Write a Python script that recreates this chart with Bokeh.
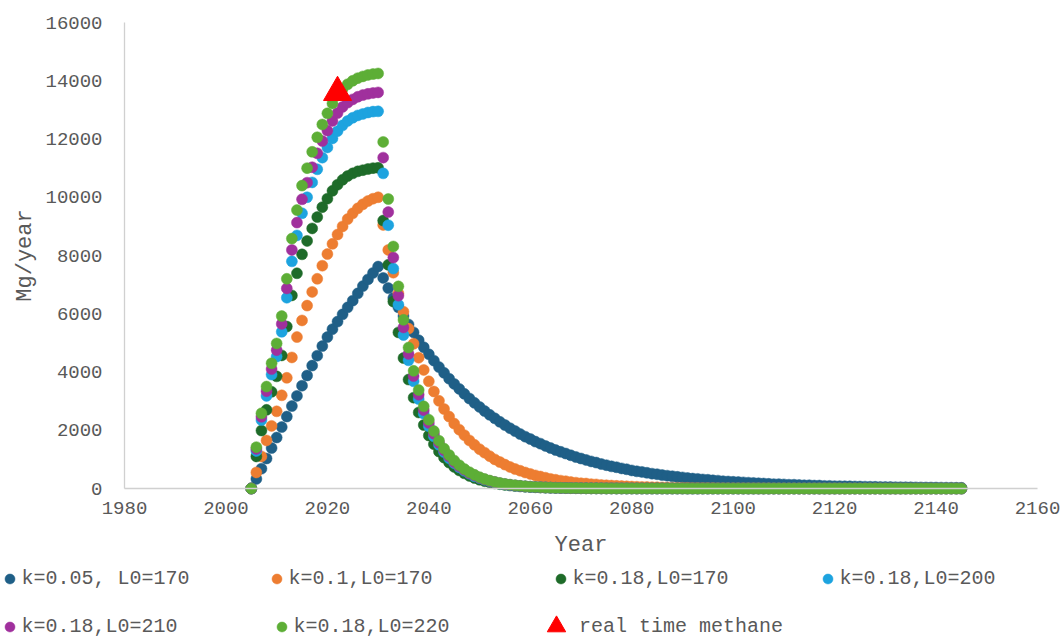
from bokeh.plotting import figure
from bokeh.models import Legend, LegendItem, Range1d, FixedTicker
from bokeh.embed import file_html
from bokeh.resources import INLINE

# ---------------- data ----------------
years = list(range(2005, 2146))

k005_L170 = [
    0, 330, 680, 1030, 1390, 1750, 2110, 2470, 2830, 3180,
    3530, 3880, 4220, 4560, 4890, 5200, 5470, 5730, 5980, 6220,
    6450, 6700, 6950, 7180, 7400, 7620,
    7230, 6880, 6540, 6220, 5920, 5630, 5360, 5090, 4850, 4610,
    4390, 4170, 3970, 3770, 3590, 3420, 3250, 3090, 2940, 2800,
    2660, 2530, 2410, 2290, 2180, 2070, 1970, 1870, 1780, 1700,
    1610, 1540, 1460, 1390, 1320, 1260, 1200, 1140, 1080, 1030,
    980, 930, 890, 840, 800, 760, 730, 690, 660, 620,
    590, 570, 540, 510, 490, 460, 440, 420, 400, 380,
    360, 340, 330, 310, 300, 280, 270, 250, 240, 230,
    220, 210, 200, 190, 180, 170, 160, 150, 150, 140,
    130, 130, 120, 110, 110, 100, 100, 90, 90, 80,
    80, 76, 73, 69, 66, 63, 60, 57, 54, 51,
    49, 46, 44, 42, 40, 38, 36, 34, 33, 31,
    30, 28, 27, 25, 24,
]

k01_L170 = [
    0, 550, 1100, 1650, 2150, 2650, 3200, 3800, 4500, 5200,
    5770, 6280, 6750, 7200, 7650, 8050, 8400, 8720, 9000, 9250,
    9450, 9620, 9760, 9870, 9950, 10000,
    9050, 8190, 7410, 6700, 6070, 5490, 4970, 4490, 4070, 3680,
    3330, 3010, 2730, 2470, 2230, 2020, 1830, 1650, 1500, 1350,
    1230, 1110, 1000, 910, 820, 740, 670, 610, 550, 500,
    450, 410, 370, 330, 300, 270, 250, 220, 200, 180,
    170, 150, 140, 120, 110, 100, 91, 82, 74, 67,
    61, 55, 50, 45, 41, 37, 33, 30, 27, 25,
    22, 20, 18, 17, 15, 14, 12, 11, 10, 9,
    8, 7, 7, 6, 6, 5, 5, 4, 4, 3,
    3, 3, 2, 2, 2, 2, 2, 2, 1, 1,
    1, 1, 1, 1, 1, 1, 1, 1, 1, 1,
    0, 0, 0, 0, 0, 0, 0, 0, 0, 0,
    0, 0, 0, 0, 0,
]

k018_L170 = [
    0, 1100, 1990, 2700, 3320, 3850, 4570, 5560, 6630, 7390,
    8040, 8500, 8930, 9320, 9660, 9950, 10220, 10430, 10600, 10730,
    10820, 10890, 10930, 10970, 11000, 11010,
    9200, 7680, 6420, 5360, 4480, 3740, 3120, 2610, 2180, 1820,
    1520, 1270, 1060, 890, 740, 620, 520, 430, 360, 300,
    250, 210, 175, 147, 122, 102, 86, 71, 59, 49,
    42, 35, 29, 24, 20, 17, 14, 12, 10, 8,
    7, 5, 5, 4, 3, 3, 2, 2, 2, 2,
    1, 1, 1, 1, 1, 1, 1, 1, 1, 1,
    0, 0, 0, 0, 0, 0, 0, 0, 0, 0, 0,
    0, 0, 0, 0, 0, 0, 0, 0, 0, 0, 0,
    0, 0, 0, 0, 0, 0, 0, 0, 0, 0, 0,
    0, 0, 0, 0, 0, 0, 0, 0, 0, 0, 0,
    0, 0, 0, 0, 0, 0, 0, 0, 0, 0, 0,
]

k018_L200 = [
    0, 1290, 2350, 3180, 3910, 4530, 5380, 6550, 7800, 8690,
    9450, 10000, 10510, 10960, 11360, 11710, 12020, 12270, 12470, 12620,
    12730, 12810, 12860, 12910, 12940, 12950,
    10820, 9040, 7550, 6310, 5270, 4400, 3680, 3070, 2570, 2140,
    1790, 1500, 1250, 1040, 870, 730, 610, 510, 420, 360,
    300, 250, 210, 170, 144, 120, 101, 84, 70, 58,
    49, 41, 35, 28, 24, 20, 16, 14, 12, 10,
    8, 6, 5, 5, 4, 4, 3, 3, 2, 2,
    1, 1, 1, 1, 1, 1, 1, 1, 1, 1,
    0, 0, 0, 0, 0, 0, 0, 0, 0, 0, 0,
    0, 0, 0, 0, 0, 0, 0, 0, 0, 0, 0,
    0, 0, 0, 0, 0, 0, 0, 0, 0, 0, 0,
    0, 0, 0, 0, 0, 0, 0, 0, 0, 0, 0,
    0, 0, 0, 0, 0, 0, 0, 0, 0, 0, 0,
]

k018_L210 = [
    0, 1360, 2460, 3340, 4100, 4750, 5650, 6870, 8190, 9130,
    9930, 10500, 11030, 11510, 11930, 12290, 12620, 12890, 13100, 13250,
    13360, 13450, 13510, 13550, 13580, 13600,
    11360, 9490, 7930, 6620, 5530, 4620, 3860, 3220, 2690, 2250,
    1880, 1570, 1310, 1100, 910, 760, 640, 530, 450, 370,
    310, 260, 220, 180, 150, 126, 106, 88, 73, 61,
    52, 43, 36, 30, 25, 21, 17, 14, 12, 10,
    9, 7, 6, 5, 4, 4, 3, 3, 2, 2,
    1, 1, 1, 1, 1, 1, 1, 1, 1, 1,
    0, 0, 0, 0, 0, 0, 0, 0, 0, 0, 0,
    0, 0, 0, 0, 0, 0, 0, 0, 0, 0, 0,
    0, 0, 0, 0, 0, 0, 0, 0, 0, 0, 0,
    0, 0, 0, 0, 0, 0, 0, 0, 0, 0, 0,
    0, 0, 0, 0, 0, 0, 0, 0, 0, 0, 0,
]

k018_L220 = [
    0, 1420, 2580, 3500, 4300, 4980, 5920, 7200, 8580, 9560,
    10400, 11000, 11560, 12060, 12500, 12880, 13220, 13500, 13720, 13880,
    14000, 14090, 14150, 14200, 14230, 14250,
    11900, 9940, 8310, 6940, 5790, 4840, 4040, 3380, 2820, 2360,
    1970, 1640, 1370, 1150, 960, 800, 670, 560, 470, 390,
    325, 272, 227, 190, 158, 132, 111, 92, 77, 64,
    54, 45, 38, 31, 26, 22, 18, 15, 13, 11,
    9, 7, 6, 5, 4, 4, 3, 3, 2, 2,
    1, 1, 1, 1, 1, 1, 1, 1, 1, 1,
    0, 0, 0, 0, 0, 0, 0, 0, 0, 0, 0,
    0, 0, 0, 0, 0, 0, 0, 0, 0, 0, 0,
    0, 0, 0, 0, 0, 0, 0, 0, 0, 0, 0,
    0, 0, 0, 0, 0, 0, 0, 0, 0, 0, 0,
    0, 0, 0, 0, 0, 0, 0, 0, 0, 0, 0,
]

real_year = [2022]
real_value = [13600]

series_values = [k005_L170, k01_L170, k018_L170, k018_L200, k018_L210, k018_L220]
series_labels = ["k=0.05, L0=170", "k=0.1,L0=170", "k=0.18,L0=170",
                 "k=0.18,L0=200", "k=0.18,L0=210", "k=0.18,L0=220"]
real_label = "real time methane"
series_colors = ["#1F5F87", "#ED7D31", "#1E6B29", "#1DA3DF", "#A0309D", "#5DAE36"]
real_color = "#FF0000"

x_ticks = [1980, 2000, 2020, 2040, 2060, 2080, 2100, 2120, 2140, 2160]
y_ticks = [0, 2000, 4000, 6000, 8000, 10000, 12000, 14000, 16000]

for s in series_values:
    assert len(s) == len(years), len(s)

# ---------------- layout geometry (pixels) ----------------
W, H = 1060, 639
AX_LEFT, AX_RIGHT, AX_TOP, AX_BOTTOM = 124, 1037, 22, 488   # plot box inside canvas
px_per_x = (AX_RIGHT - AX_LEFT) / (x_ticks[-1] - x_ticks[0])
px_per_y = (AX_BOTTOM - AX_TOP) / (y_ticks[-1] - y_ticks[0])
x_start = x_ticks[0] - AX_LEFT / px_per_x
x_end = x_start + W / px_per_x
y_end = y_ticks[-1] + AX_TOP / px_per_y
y_start = y_ticks[0] - (H - AX_BOTTOM) / px_per_y

FONT = "Liberation Mono"
TXT = "#595959"
AXIS = "#D0D0D0"

p = figure(width=W, height=H, min_border=0,
           x_range=Range1d(x_start, x_end), y_range=Range1d(y_start, y_end),
           output_backend="svg", toolbar_location=None)

p.outline_line_color = None
p.grid.visible = False
p.background_fill_color = "white"
p.border_fill_color = "white"

# axes drawn at the data origin so the legend can live in the same frame
p.xaxis.fixed_location = y_ticks[0]
p.yaxis.fixed_location = x_ticks[0]
p.xaxis.bounds = (x_ticks[0], x_ticks[-1])
p.yaxis.bounds = (y_ticks[0], y_ticks[-1])
p.xaxis.ticker = FixedTicker(ticks=x_ticks)
p.yaxis.ticker = FixedTicker(ticks=y_ticks)
for ax in (p.xaxis[0], p.yaxis[0]):
    ax.axis_line_color = AXIS
    ax.axis_line_width = 1.3
    ax.major_tick_line_color = None
    ax.minor_tick_line_color = None
    ax.major_tick_out = 0
    ax.major_tick_in = 0
    ax.major_label_text_font = FONT
    ax.major_label_text_font_size = "19px"
    ax.major_label_text_color = TXT
    ax.axis_label_text_font = FONT
    ax.axis_label_text_font_size = "22px"
    ax.axis_label_text_color = TXT
    ax.axis_label_text_font_style = "normal"

p.xaxis.axis_label = "Year"
p.yaxis.axis_label = "Mg/year"
p.xaxis.major_label_standoff = 13
p.xaxis.axis_label_standoff = 16
p.yaxis.major_label_standoff = 22
p.yaxis.axis_label_standoff = 4

renderers = []
for vals, col in zip(series_values, series_colors):
    renderers.append(p.scatter(years, vals, size=11, fill_color=col,
                               line_color=col, line_width=0.5))
r_real = p.scatter(real_year, real_value, marker="triangle", size=28,
                   fill_color=real_color, line_color=real_color)

# ---------------- legend: one small legend per entry ----------------
def add_entry(label, rend, cx, cy, box):
    leg = Legend(items=[LegendItem(label=label, renderers=[rend])],
                 location=(cx - box / 2.0, H - (cy + box / 2.0)),
                 orientation="horizontal",
                 glyph_width=box, glyph_height=box, label_height=box,
                 label_standoff=0, padding=0, margin=0, spacing=0,
                 border_line_alpha=0, background_fill_alpha=0,
                 label_text_font=FONT, label_text_font_size="20px",
                 label_text_color=TXT)
    p.add_layout(leg)

row1, row2 = 578, 626
add_entry(series_labels[0], renderers[0], 9, row1, 25)
add_entry(series_labels[1], renderers[1], 276, row1, 25)
add_entry(series_labels[2], renderers[2], 560, row1, 25)
add_entry(series_labels[3], renderers[3], 827, row1, 25)
add_entry(series_labels[4], renderers[4], 9, row2, 25)
add_entry(series_labels[5], renderers[5], 281, row2, 25)
add_entry(real_label, r_real, 556, row2, 46)

open("out.html", "w").write(file_html(p, INLINE))
